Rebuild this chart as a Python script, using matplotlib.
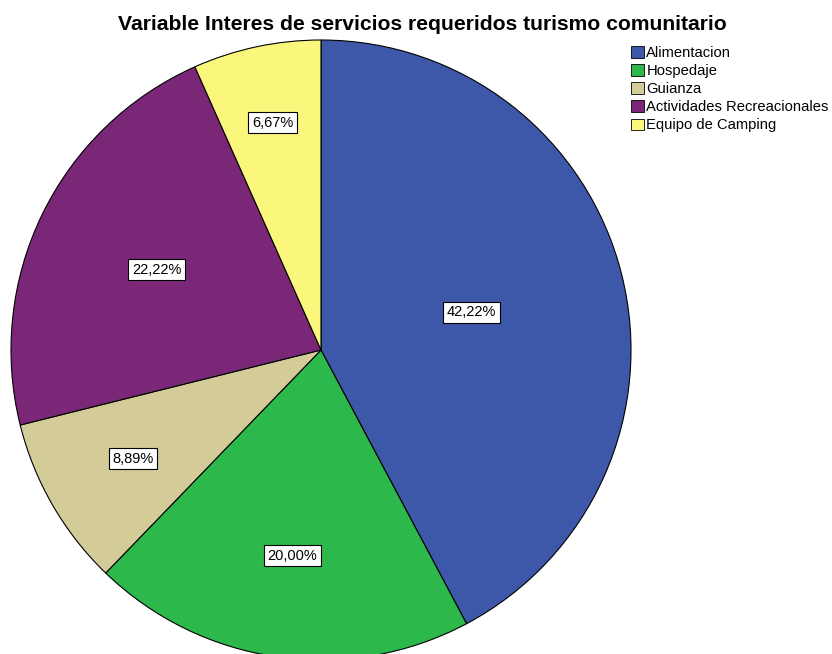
import numpy as np
import matplotlib
matplotlib.use('Agg')
import matplotlib.pyplot as plt

plt.rcParams['font.family'] = ['Liberation Sans', 'DejaVu Sans']

# Data
categories = ['Alimentacion', 'Hospedaje', 'Guianza',
              'Actividades Recreacionales', 'Equipo de Camping']
percent = [42.22, 20.00, 8.89, 22.22, 6.67]
labels = ['42,22%', '20,00%', '8,89%', '22,22%', '6,67%']
colors = ['#3D57A9', '#2DB84B', '#D4CC98', '#7B2778', '#FBF67C']
# label distance from center (fraction of radius), as placed in the original
label_r = [0.50, 0.67, 0.70, 0.59, 0.75]

W, H = 832, 654
fig = plt.figure(figsize=(W / 100, H / 100), dpi=100)

# pie centre (321, 350) px from top-left, radius 310 px
cx, cy, rad = 321, 350, 310
ax = fig.add_axes([(cx - rad) / W, (H - cy - rad) / H, 2 * rad / W, 2 * rad / H])
wedges, _ = ax.pie(percent, colors=colors, startangle=90, counterclock=False,
                   radius=1.0, wedgeprops=dict(edgecolor='black', linewidth=0.8))
ax.set_xlim(-1, 1)
ax.set_ylim(-1, 1)
ax.set_aspect('equal')
ax.axis('off')

for w, lab, r in zip(wedges, labels, label_r):
    ang = np.deg2rad((w.theta1 + w.theta2) / 2)
    ax.text(r * np.cos(ang), r * np.sin(ang), lab, ha='center', va='center',
            fontsize=10.5,
            bbox=dict(boxstyle='square,pad=0.25', facecolor='white',
                      edgecolor='black', linewidth=0.8))

fig.text(422 / W, 1 - 24 / H, 'Variable Interes de servicios requeridos turismo comunitario',
         ha='center', va='center', fontsize=15.2, fontweight='bold')

handles = [plt.Rectangle((0, 0), 1, 1, facecolor=c, edgecolor='black', linewidth=0.6)
           for c in colors]
fig.legend(handles, categories, loc='upper left', bbox_to_anchor=(631 / W, 1 - 46 / H),
           frameon=False, fontsize=10.6, handlelength=0.85, handleheight=0.85,
           handletextpad=0.2, labelspacing=0.28, borderpad=0, borderaxespad=0)

fig.savefig('out.png', dpi=100)
